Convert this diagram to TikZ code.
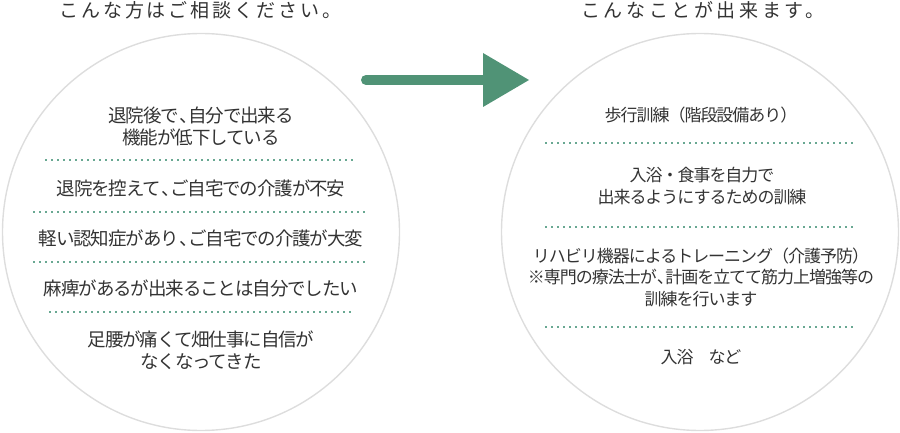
\documentclass[tikz,border=0pt]{standalone}
\usepackage{fontspec}
\setmainfont{Noto Sans CJK JP}[LetterSpace=-6]
\newfontfamily\titlefontL[LetterSpace=15.5]{Noto Sans CJK JP}
\newfontfamily\titlefontR[LetterSpace=19]{Noto Sans CJK JP}
\newcommand\hcomma{\makebox[.5em][l]{、}}
\definecolor{txt}{HTML}{333333}
\definecolor{ring}{HTML}{DDDDDD}
\definecolor{arrowgreen}{RGB}{80,147,118}
\definecolor{dotgreen}{RGB}{105,168,146}
\tikzset{
  ringc/.style={draw=ring, line width=1.4pt},
  itemL/.style={text=txt, align=center, inner sep=0pt, font=\fontsize{18.5}{22}\selectfont},
  itemR/.style={text=txt, align=center, inner sep=0pt, font=\fontsize{17}{21.5}\selectfont},
  sep/.style={draw=dotgreen, line width=1.7pt, dash pattern=on 2.4pt off 3.6pt},
  ttl/.style={text=txt, anchor=west, inner sep=0pt},
  arr/.style={draw=arrowgreen, line width=10pt, line cap=round},
}
\begin{document}
\begin{tikzpicture}[x=1pt, y=-1pt]
\useasboundingbox (0,0) rectangle (900,433);
% circles
\draw[ringc] (201,232) circle (198.5);
\draw[ringc] (700,232) circle (198.5);
% titles
\node[ttl] (tL) at (59,10) {\titlefontL\fontsize{19}{20}\selectfont こんな方はご相談ください。};
\node[ttl] (tR) at (581,10) {\titlefontR\fontsize{19}{20}\selectfont こんなことが出来ます。};
% arrow
\coordinate (as) at (366,80);
\coordinate (ae) at (486,80);
\draw[arr] (as) -- (ae);
\fill[arrowgreen] (483,53) -- (529,80) -- (483,107) -- cycle;
% left items
\node[itemL] (l1) at (201,126) {退院後で\hcomma 自分で出来る\\機能が低下している};
\node[itemL] (l2) at (201,188) {退院を控えて\hcomma ご自宅での介護が不安};
\node[itemL] (l3) at (201,238) {軽い認知症があり\hcomma ご自宅での介護が大変};
\node[itemL] (l4) at (201,288) {麻痺があるが出来ることは自分でしたい};
\node[itemL] (l5) at (201,350) {足腰が痛くて畑仕事に自信が\\なくなってきた};
\draw[sep] (45,160) -- (354,160);
\draw[sep] (33,212) -- (368,212);
\draw[sep] (33,262) -- (366,262);
\draw[sep] (49,312) -- (351,312);
% right items
\node[itemR] (r1) at (701,115) {歩行訓練（階段設備あり）};
\node[itemR] (r2) at (702,186) {入浴・食事を自力で\\出来るようにするための訓練};
\node[itemR] (r3) at (701,277) {リハビリ機器によるトレーニング（介護予防）\\※専門の療法士が\hcomma 計画を立てて筋力上増強等の\\訓練を行います};
\node[itemR] (r4) at (701,357) {入浴　など};
\draw[sep] (545,143) -- (854,143);
\draw[sep] (545,227) -- (854,227);
\draw[sep] (545,327) -- (854,327);
\end{tikzpicture}
\end{document}
